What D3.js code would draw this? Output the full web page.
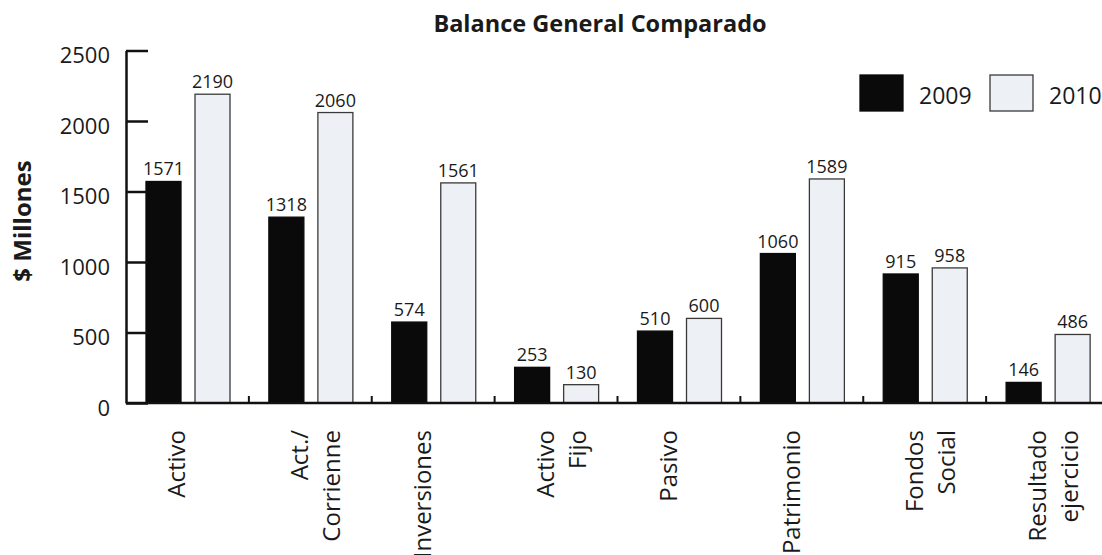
<!DOCTYPE html>
<meta charset="utf-8">
<script src="https://d3js.org/d3.v7.min.js"></script>
<style>
  body { margin: 0; background: #fff; }
  text { font-family: "Open Sans", "Noto Sans", sans-serif; fill: #1a1a1a; }
</style>
<div id="my_dataviz"></div>
<script>

// data
var categories = ["Activo", "Act./ Corrienne", "Inversiones", "Activo Fijo", "Pasivo", "Patrimonio", "Fondos Social", "Resultado ejercicio"];
var labelLines = [["Activo"], ["Act./", "Corrienne"], ["Inversiones"], ["Activo", "Fijo"], ["Pasivo"], ["Patrimonio"], ["Fondos", "Social"], ["Resultado", "ejercicio"]];
var years = ["2009", "2010"];
var values2009 = [1571, 1318, 574, 253, 510, 1060, 915, 146];
var values2010 = [2190, 2060, 1561, 130, 600, 1589, 958, 486];
var yTicks = [0, 500, 1000, 1500, 2000, 2500];

var W = 1102, H = 555;
var svg = d3.select("#my_dataviz")
  .append("svg")
    .attr("width", W)
    .attr("height", H);

// scales
var x = d3.scaleBand()
    .domain(categories)
    .range([126, 1109])
    .padding(0);

var xSub = d3.scaleBand()
    .domain(years)
    .range([20, 104])
    .paddingInner(0.286);

var y = d3.scaleLinear()
    .domain([0, 2500])
    .range([403, 50.5]);

var fills = {"2009": "#0a0a0a", "2010": "#edf0f5"};

// title
svg.append("text")
  .attr("x", 600)
  .attr("y", 32)
  .style("text-anchor", "middle")
  .style("font-weight", "bold")
  .style("font-size", "23.5px")
  .text("Balance General Comparado");

// y axis title
svg.append("text")
  .attr("transform", "translate(31,221) rotate(-90)")
  .style("text-anchor", "middle")
  .style("font-weight", "bold")
  .style("font-size", "24px")
  .text("$ Millones");

// bars
var rows = categories.map(function(c, i) {
  return {cat: c, vals: [{year: "2009", v: values2009[i]}, {year: "2010", v: values2010[i]}]};
});

var groups = svg.selectAll(".grp")
  .data(rows)
  .enter()
  .append("g")
    .attr("class", "grp")
    .attr("transform", function(d) { return "translate(" + x(d.cat) + ",0)"; });

groups.selectAll("rect")
  .data(function(d) { return d.vals; })
  .enter()
  .append("rect")
    .attr("x", function(d) { return xSub(d.year); })
    .attr("y", function(d) { return y(d.v); })
    .attr("width", xSub.bandwidth())
    .attr("height", function(d) { return y(0) - y(d.v); })
    .style("fill", function(d) { return fills[d.year]; })
    .style("stroke", function(d) { return d.year === "2010" ? "#3a3a3a" : "#0a0a0a"; })
    .style("stroke-width", 1.3);

groups.selectAll(".val")
  .data(function(d) { return d.vals; })
  .enter()
  .append("text")
    .attr("class", "val")
    .attr("x", function(d) { return xSub(d.year) + xSub.bandwidth() / 2; })
    .attr("y", function(d) { return y(d.v) - 6; })
    .style("text-anchor", "middle")
    .style("font-size", "18px")
    .text(function(d) { return d.v; });

// y axis, ticks pointing inward
var yAxis = svg.append("g")
  .attr("transform", "translate(126,0)")
  .call(d3.axisLeft(y).tickValues(yTicks).tickFormat(d3.format("d"))
    .tickSizeInner(-22).tickSizeOuter(0).tickPadding(16));
yAxis.select(".domain").style("stroke", "#111").style("stroke-width", 2.5);
yAxis.selectAll(".tick line").style("stroke", "#111").style("stroke-width", 2.5);
yAxis.selectAll(".tick text")
  .style("font-family", "'Open Sans', 'Noto Sans', sans-serif")
  .style("font-size", "22px")
  .style("fill", "#1a1a1a")
  .attr("dy", "0.55em");

// x axis line with small upward ticks at band boundaries
svg.append("line")
  .attr("x1", 126).attr("x2", W)
  .attr("y1", y(0)).attr("y2", y(0))
  .style("stroke", "#111").style("stroke-width", 2.5);

svg.selectAll(".xtick")
  .data(categories.slice(1))
  .enter()
  .append("line")
    .attr("class", "xtick")
    .attr("x1", function(d) { return x(d); })
    .attr("x2", function(d) { return x(d); })
    .attr("y1", y(0))
    .attr("y2", y(0) - 7)
    .style("stroke", "#111").style("stroke-width", 2);

// rotated category labels
var lab = svg.selectAll(".xlab")
  .data(rows)
  .enter()
  .append("g")
    .attr("class", "xlab")
    .attr("transform", function(d) { return "translate(" + (x(d.cat) + x.bandwidth() / 2 - 2) + ",430)"; });

lab.selectAll("text")
  .data(function(d, i) { return labelLines[i]; })
  .enter()
  .append("text")
    .attr("transform", function(d, j) { return "translate(" + (j * 32) + ",0) rotate(-90)"; })
    .style("text-anchor", "end")
    .style("font-size", "24px")
    .text(function(d) { return d; });

// handmade legend
var legend = [{year: "2009", x: 860}, {year: "2010", x: 990}];
svg.selectAll(".legbox")
  .data(legend)
  .enter()
  .append("rect")
    .attr("x", function(d) { return d.x; })
    .attr("y", 75)
    .attr("width", 43)
    .attr("height", 36)
    .style("fill", function(d) { return fills[d.year]; })
    .style("stroke", function(d) { return d.year === "2010" ? "#3a3a3a" : "#0a0a0a"; })
    .style("stroke-width", 1.3);
svg.selectAll(".legtxt")
  .data(legend)
  .enter()
  .append("text")
    .attr("x", function(d) { return d.x + 59; })
    .attr("y", 104)
    .style("font-size", "23px")
    .text(function(d) { return d.year; });

</script>
